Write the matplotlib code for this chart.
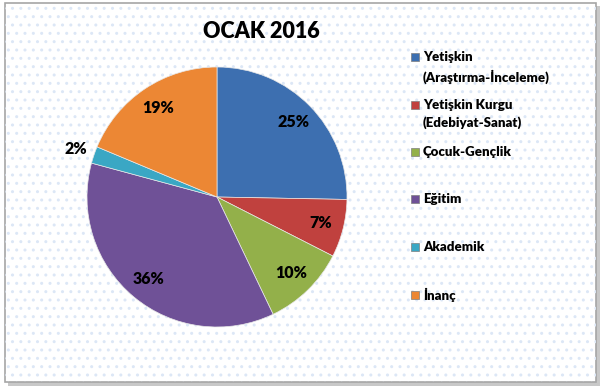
import numpy as np
import matplotlib.pyplot as plt
from matplotlib.patches import Rectangle

# Veriler
kategoriler = ['Yetişkin\n(Araştırma-İnceleme)', 'Yetişkin Kurgu\n(Edebiyat-Sanat)',
               'Çocuk-Gençlik', 'Eğitim', 'Akademik', 'İnanç']
degerler = [25.3, 7.2, 10.4, 36.3, 2.1, 18.7]
renkler = ['#3D6FB0', '#C0413E', '#93B04A', '#6F5197', '#3AA7C4', '#EC8734']
baslik = 'OCAK 2016'

plt.rcParams['font.family'] = ['Lato', 'DejaVu Sans']
plt.rcParams['font.weight'] = 'bold'
plt.rcParams['hatch.linewidth'] = 1.0

W, H = 600, 386
fig = plt.figure(figsize=(W / 100, H / 100), dpi=100)

# Arka plan: çerçeve ve noktalı desen
bg = fig.add_axes([0, 0, 1, 1])
bg.set_xlim(0, W)
bg.set_ylim(H, 0)
bg.axis('off')
bg.add_patch(Rectangle((8, 6), 592, 380, facecolor='#C8C8C8', edgecolor='none'))
bg.add_patch(Rectangle((5, 3), 591, 379, facecolor='white', edgecolor='#A6A6A6', lw=1.2))
bg.add_patch(Rectangle((5, 3), 591, 379, facecolor='none', edgecolor='#DCE7F6',
                       hatch='..', lw=0))

# Başlık
fig.text(261 / W, 1 - 31 / H, baslik, ha='center', va='center',
         fontsize=15.5, fontweight='heavy')

# Pasta grafiği
r = 130
cx, cy = 217, 197
ax = fig.add_axes([(cx - r) / W, 1 - (cy + r) / H, 2 * r / W, 2 * r / H])
wedges, texts, autotexts = ax.pie(
    degerler, colors=renkler, startangle=90, counterclock=False,
    autopct=lambda p: f'{p:.0f}%', pctdistance=0.82,
    wedgeprops=dict(edgecolor='#E8E8E8', linewidth=0.5),
    textprops=dict(fontsize=11.5, fontweight='heavy', color='black'))
ax.set_xlim(-1, 1)
ax.set_ylim(-1, 1)
ax.set_aspect('equal')

# Küçük dilimin etiketi dışarıda
for w, t, v in zip(wedges, autotexts, degerler):
    if v < 5:
        ang = np.deg2rad((w.theta1 + w.theta2) / 2)
        t.set_position((1.15 * np.cos(ang), 1.15 * np.sin(ang)))

# Lejant
lej_y = [[57, 77], [105, 123], [152], [199], [247], [295]]
for etiket, renk, ys in zip(kategoriler, renkler, lej_y):
    bg.add_patch(Rectangle((411, ys[0] - 4), 8, 8, facecolor=renk,
                           edgecolor='#7F7F7F', lw=0.5))
    for satir, y in zip(etiket.split('\n'), ys):
        bg.text(423, y, satir, ha='left', va='center', fontsize=9.5,
                fontweight='heavy')

fig.savefig('out.png', dpi=100)
